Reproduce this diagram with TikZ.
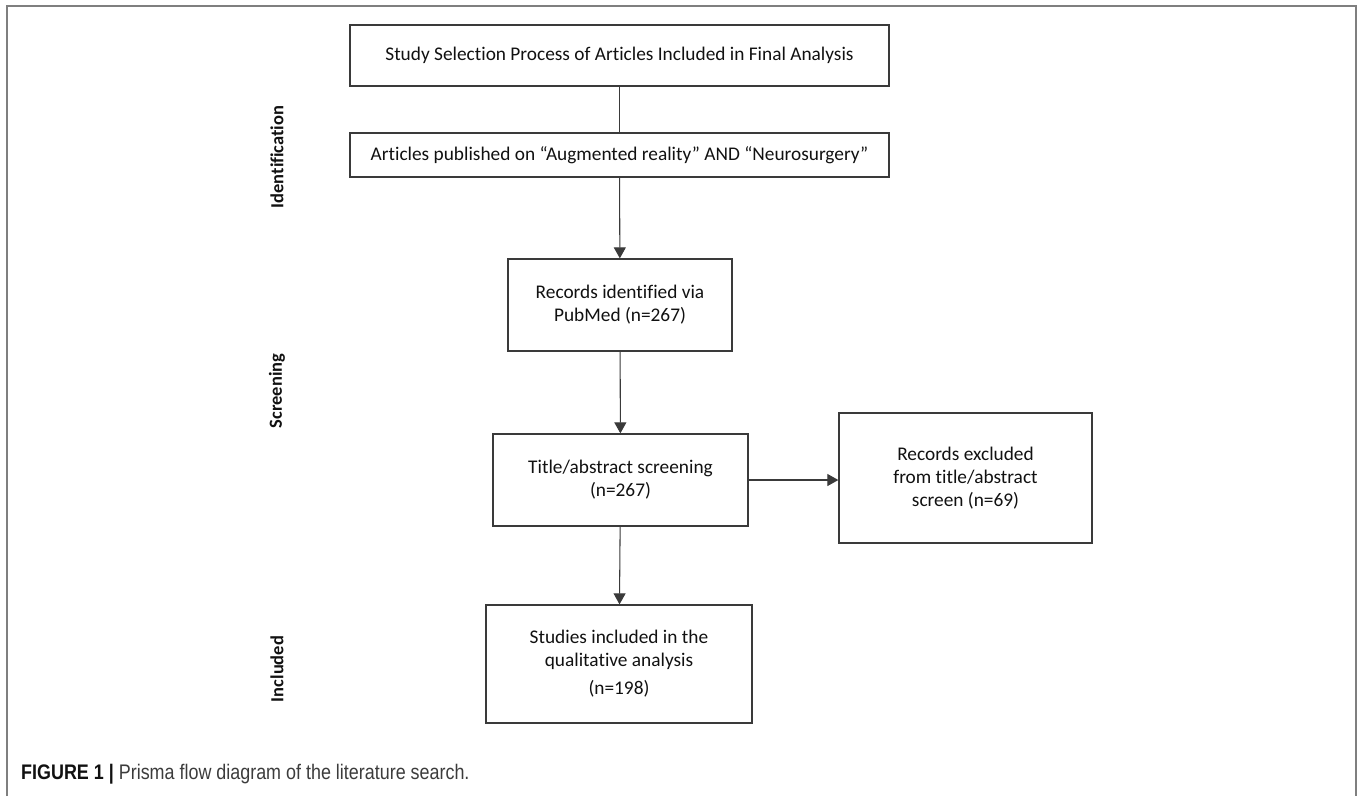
\documentclass[tikz,border=0pt]{standalone}
\usepackage{fontspec}
\setmainfont{Carlito}[Ligatures={NoCommon}]
\newfontfamily\capfont[FakeStretch=0.85]{Liberation Sans}
\usepackage{xcolor}
\usepackage{tikz}
\usetikzlibrary{arrows.meta,positioning}
\definecolor{frame}{HTML}{7F7F7F}
\definecolor{edge}{HTML}{3A3A3A}
\definecolor{ink}{HTML}{111111}
\definecolor{captext}{HTML}{3C3C3C}

\begin{document}
\begin{tikzpicture}[
  box/.style={draw=edge, line width=0.75pt, align=center, text=ink,
              inner sep=0pt, font=\fontsize{11}{13}\selectfont},
  stage/.style={rotate=90, text=ink, font=\fontsize{10.5}{12}\selectfont\bfseries},
  route/.style={draw=edge, line width=0.6pt, -{Triangle[length=2.2mm,width=2.4mm]}}
]
\useasboundingbox (0,0) rectangle (27.26,-15.92);
\draw[frame, line width=1.1pt] (0.14,-15.92) -- (0.14,-0.12) -- (27.12,-0.12) -- (27.12,-15.92);

\node[box, minimum width=10.78cm, minimum height=1.22cm] (select) at (12.39,-1.11)
  {Study Selection Process of Articles Included in Final Analysis};
\node[box, minimum width=10.78cm, minimum height=0.88cm] (search) at (12.39,-3.10)
  {Articles published on “Augmented reality” AND “Neurosurgery”};
\node[box, minimum width=4.48cm, minimum height=1.84cm] (records) at (12.40,-6.10)
  {Records identified via\\PubMed (n=267)};
\node[box, minimum width=5.10cm, minimum height=1.84cm] (screen) at (12.41,-9.60)
  {Title/abstract screening\\(n=267)};
\node[box, minimum width=5.06cm, minimum height=2.60cm] (excluded) at (19.31,-9.56)
  {Records excluded\\from title/abstract\\screen (n=69)};
\node[box, minimum width=5.32cm, minimum height=2.36cm] (included) at (12.38,-13.28)
  {Studies included in the\\qualitative analysis\\[3pt](n=198)};

% phase labels
\node[stage] (ident) at (5.54,-3.14) {Identification};
\node[stage] (screening) at (5.54,-7.82) {Screening};
\node[stage] (incl) at (5.54,-13.38) {Included};

\draw[draw=edge, line width=0.6pt] (select) -- (search);
\draw[route] (search) -- (records);
\draw[route] (records) -- (screen);
\draw[route] (screen.east) -- (screen.east -| excluded.west);
\draw[route] (screen) -- (included);

\node[anchor=west, text=captext, font=\capfont\fontsize{12}{14}\selectfont] (caption) at (0.30,-15.48)
  {\textcolor{ink}{\textbf{FIGURE 1 |}} Prisma flow diagram of the literature search.};
\end{tikzpicture}
\end{document}
